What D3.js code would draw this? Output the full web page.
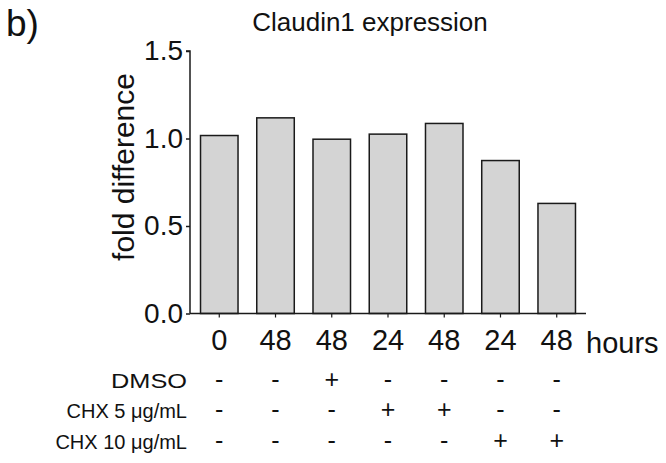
<!DOCTYPE html>
<html>
<head>
<meta charset="utf-8">
<script src="https://cdn.jsdelivr.net/npm/d3@7"></script>
<style>
  body { margin: 0; background: #fff; }
  text { font-family: "Liberation Sans", Arial, sans-serif; fill: #111; }
</style>
</head>
<body>
<div id="holder"></div>
<script>
const w = 666;
const h = 463;

// DATA
const hours = ["0", "48", "48", "24", "48", "24", "48"];
const foldValues = [1.017, 1.118, 0.996, 1.025, 1.086, 0.874, 0.629];
const yTicks = [0, 0.5, 1.0, 1.5];
const rowLabels = ["DMSO", "CHX 5 μg/mL", "CHX 10 μg/mL"];
const dmso = ["-", "-", "+", "-", "-", "-", "-"];
const chx5 = ["-", "-", "-", "+", "+", "-", "-"];
const chx10 = ["-", "-", "-", "-", "-", "+", "+"];

// CREATE SVG
const svg = d3.select("#holder")
    .append("svg")
    .attr("width", w)
    .attr("height", h)

const idx = d3.range(hours.length);

// SCALES
let xScale = d3.scaleBand()
    .domain(idx)
    .range([190, 586])
    .paddingInner(0.333)
    .paddingOuter(0.187)

let yScale = d3.scaleLinear()
    .domain([0, 1.5])
    .range([313.5, 51])

// BARS
svg.selectAll("rect.bar")
    .data(foldValues)
    .enter()
    .append("rect")
    .attr("class", "bar")
    .attr("x", (d, i) => xScale(i))
    .attr("y", d => yScale(d))
    .attr("width", xScale.bandwidth())
    .attr("height", d => yScale(0) - yScale(d))
    .attr("fill", "#d4d4d4")
    .attr("stroke", "#1a1a1a")
    .attr("stroke-width", 1.5)

// Y AXIS
let yAxis = d3.axisLeft(yScale)
    .tickValues(yTicks)
    .tickFormat(d3.format(".1f"))
    .tickSize(4)
    .tickPadding(3)

let gy = svg.append("g")
    .attr("transform", "translate(190,0)")
    .call(yAxis)
gy.select(".domain").attr("stroke", "#1a1a1a").attr("stroke-width", 1.5)
    .attr("d", "M-4," + yScale(1.5) + "H0V" + yScale(0))
gy.selectAll(".tick line").attr("stroke", "#1a1a1a").attr("stroke-width", 1.5)
gy.selectAll(".tick text")
    .style("font-size", "28px")
    .style("font-family", "'Liberation Sans', Arial, sans-serif")
    .attr("fill", "#111")

// X AXIS
let xAxis = d3.axisBottom(xScale)
    .tickFormat(i => hours[i])
    .tickSize(4)
    .tickPadding(12)

let gx = svg.append("g")
    .attr("transform", "translate(0," + yScale(0) + ")")
    .call(xAxis)
gx.select(".domain").attr("stroke", "#1a1a1a").attr("stroke-width", 1.5)
    .attr("d", "M190,0H586")
gx.selectAll(".tick line").attr("stroke", "#1a1a1a").attr("stroke-width", 1.2)
gx.selectAll(".tick text")
    .style("font-size", "29px")
    .style("font-family", "'Liberation Sans', Arial, sans-serif")
    .attr("fill", "#111")

svg.append("text")
    .attr("x", 586)
    .attr("y", 353)
    .style("font-size", "29px")
    .text("hours")

// Y LABEL
svg.append("text")
    .attr("transform", "translate(134,167) rotate(-90)")
    .attr("text-anchor", "middle")
    .style("font-size", "30px")
    .text("fold difference")

// TITLE
svg.append("text")
    .attr("x", 370)
    .attr("y", 31)
    .attr("text-anchor", "middle")
    .style("font-size", "26px")
    .text("Claudin1 expression")

svg.append("text")
    .attr("x", 6)
    .attr("y", 36)
    .style("font-size", "37px")
    .text("b)")

// TREATMENT TABLE
const rows = [dmso, chx5, chx10];
const rowY = [388, 418, 449];

rows.forEach((row, r) => {
    let lab = svg.append("text")
        .attr("x", 187)
        .attr("y", rowY[r])
        .attr("text-anchor", "end")
        .style("font-size", "20px")
        .text(rowLabels[r])
    if (r === 0) lab.attr("textLength", 76).attr("lengthAdjust", "spacingAndGlyphs")

    svg.selectAll("text.sym" + r)
        .data(row)
        .enter()
        .append("text")
        .attr("class", "sym" + r)
        .attr("x", (d, i) => xScale(i) + xScale.bandwidth() / 2)
        .attr("y", rowY[r])
        .attr("text-anchor", "middle")
        .style("font-size", "25px")
        .text(d => d)
})
</script>
</body>
</html>
